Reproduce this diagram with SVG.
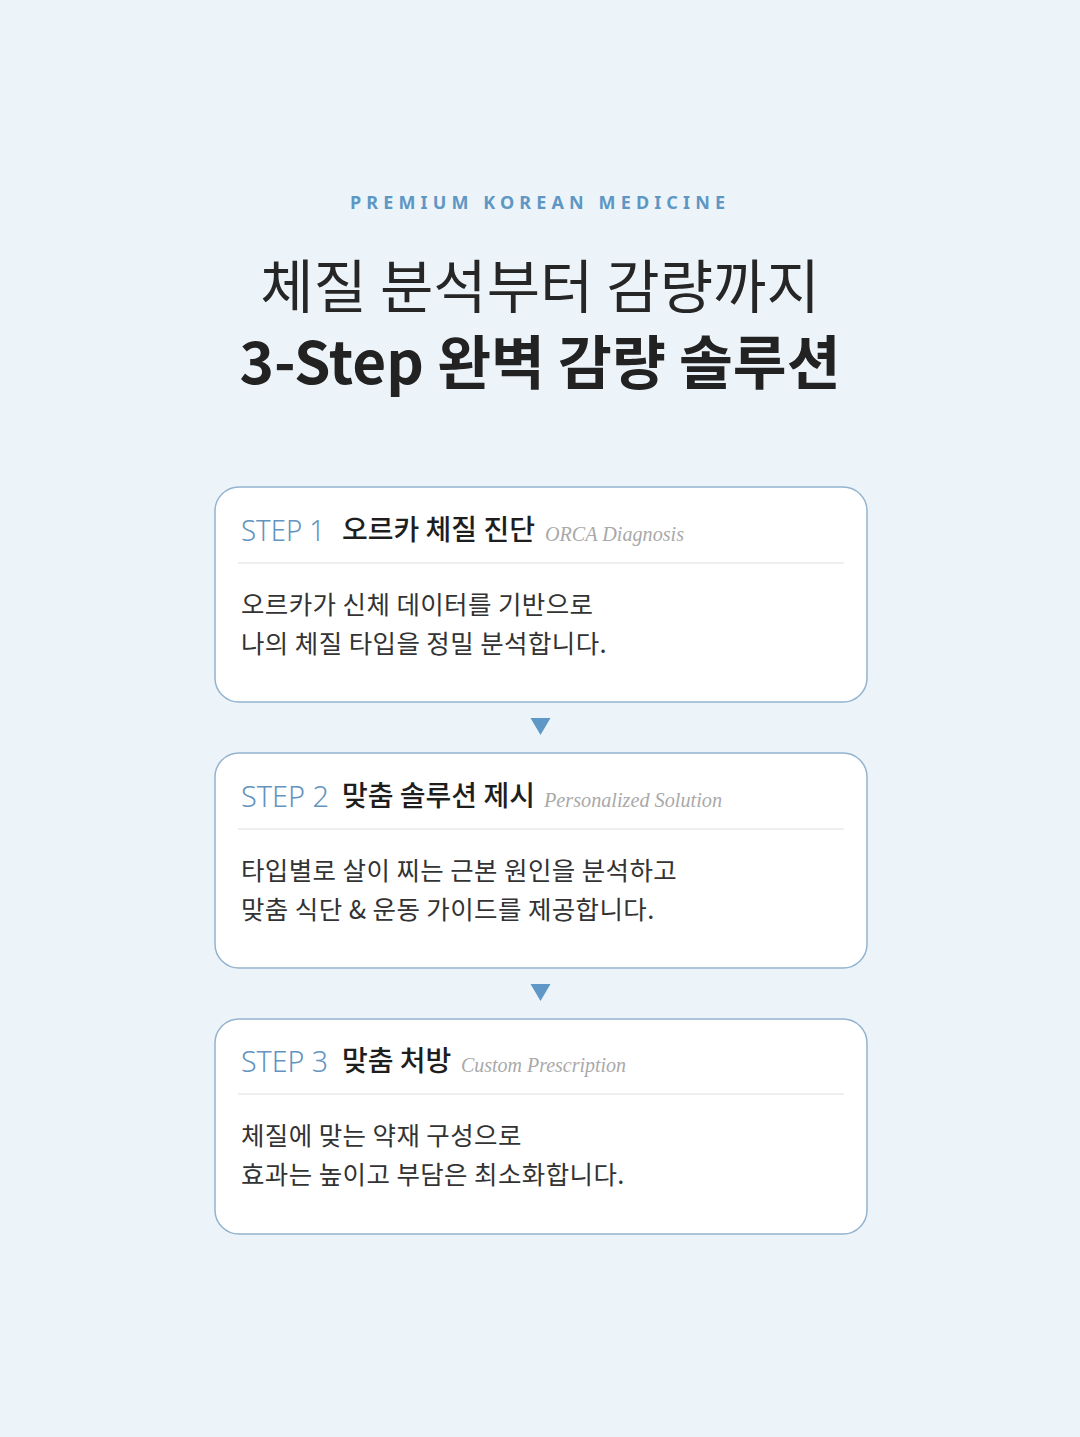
<svg xmlns="http://www.w3.org/2000/svg" width="1080" height="1437" viewBox="0 0 1080 1437">
<defs>
<style>
.kr{font-family:"Noto Sans CJK KR","Noto Sans",sans-serif;}
.eyebrow{font-family:"Noto Sans","Liberation Sans",sans-serif;font-weight:700;font-size:18px;fill:#5f97c4;letter-spacing:5px;}
.t1{font-size:58px;font-weight:400;fill:#262626;}
.t2{font-size:58.5px;font-weight:700;fill:#222;}
.card{fill:#ffffff;stroke:#93b3cf;stroke-width:1.5;}
.step{font-family:"Noto Sans","Liberation Sans",sans-serif;font-weight:300;font-size:29px;fill:#6394bf;}
.head{font-size:28px;font-weight:500;fill:#1e1e1e;}
.en{font-family:"Liberation Serif","Noto Serif",serif;font-style:italic;font-size:21px;fill:#a9a9a9;}
.div{stroke:#e7eaed;stroke-width:1.5;}
.body{font-size:25.5px;font-weight:400;fill:#333;letter-spacing:0.4px;}
.tri{fill:#5f98c6;}
</style>
</defs>
<rect width="1080" height="1437" fill="#edf4f9"/>

<g id="header">
<text class="eyebrow" x="350" y="209" textLength="380" lengthAdjust="spacing">PREMIUM KOREAN MEDICINE</text>
<text class="kr t1" x="540" y="308" text-anchor="middle">체질 분석부터 감량까지</text>
<text class="kr t2" x="540" y="384" text-anchor="middle">3-Step 완벽 감량 솔루션</text>
</g>

<g id="step1">
<rect class="card" x="215" y="487" width="652" height="215" rx="24"/>
<text class="step" x="241" y="541" textLength="84" lengthAdjust="spacingAndGlyphs">STEP 1</text>
<text class="kr head" x="342" y="540">오르카 체질 진단</text>
<text class="en" x="545" y="541" textLength="139" lengthAdjust="spacingAndGlyphs">ORCA Diagnosis</text>
<line class="div" x1="238" y1="563" x2="844" y2="563"/>
<text class="kr body" x="241" y="614">오르카가 신체 데이터를 기반으로</text>
<text class="kr body" x="241" y="653">나의 체질 타입을 정밀 분석합니다.</text>
</g>

<g id="step2">
<rect class="card" x="215" y="753" width="652" height="215" rx="24"/>
<text class="step" x="241" y="807" textLength="88" lengthAdjust="spacingAndGlyphs">STEP 2</text>
<text class="kr head" x="342" y="806">맞춤 솔루션 제시</text>
<text class="en" x="544" y="807" textLength="178" lengthAdjust="spacingAndGlyphs">Personalized Solution</text>
<line class="div" x1="238" y1="829" x2="844" y2="829"/>
<text class="kr body" x="241" y="880">타입별로 살이 찌는 근본 원인을 분석하고</text>
<text class="kr body" x="241" y="919">맞춤 식단 &amp; 운동 가이드를 제공합니다.</text>
</g>

<g id="step3">
<rect class="card" x="215" y="1019" width="652" height="215" rx="24"/>
<text class="step" x="241" y="1072" textLength="87" lengthAdjust="spacingAndGlyphs">STEP 3</text>
<text class="kr head" x="342" y="1071">맞춤 처방</text>
<text class="en" x="461" y="1072" textLength="165" lengthAdjust="spacingAndGlyphs">Custom Prescription</text>
<line class="div" x1="238" y1="1094" x2="844" y2="1094"/>
<text class="kr body" x="241" y="1145">체질에 맞는 약재 구성으로</text>
<text class="kr body" x="241" y="1184">효과는 높이고 부담은 최소화합니다.</text>
</g>

<g id="connectors">
<polygon class="tri" points="530.5,718 550.5,718 540.5,735"/>
<polygon class="tri" points="530.5,984 550.5,984 540.5,1001"/>
</g>
</svg>
